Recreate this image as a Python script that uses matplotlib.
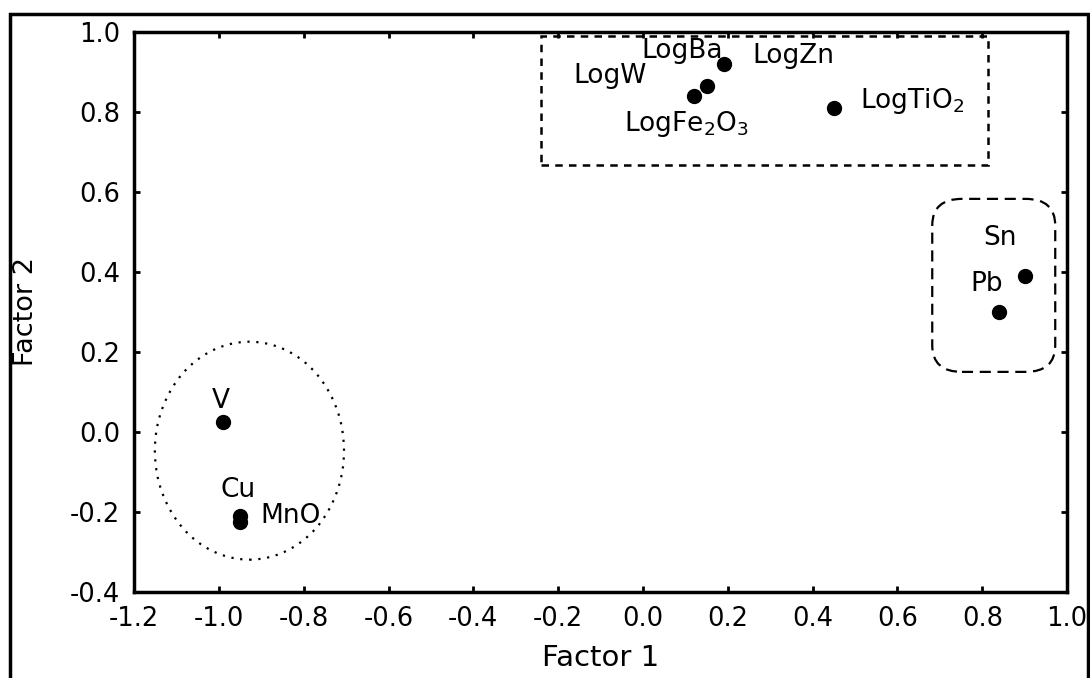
import matplotlib.pyplot as plt
from matplotlib.patches import Rectangle, FancyBboxPatch, Ellipse

plt.rcParams['font.family'] = ['DejaVu Sans']
plt.rcParams['mathtext.fontset'] = 'dejavusans'

## data ##
names = ['LogBa', 'LogW', 'LogFe2O3', 'LogTiO2', 'Sn', 'Pb', 'V', 'Cu', 'MnO']
factor1 = [0.19, 0.15, 0.12, 0.45, 0.90, 0.84, -0.99, -0.95, -0.95]
factor2 = [0.92, 0.865, 0.84, 0.81, 0.39, 0.30, 0.025, -0.21, -0.225]

# label text and where it sits (baseline)
label_text = ['LogBa', 'LogZn', 'LogW', 'LogFe$_2$O$_3$', 'LogTiO$_2$', 'Sn', 'Pb', 'V', 'Cu', 'MnO']
label_x = [-0.005, 0.259, -0.164, -0.044, 0.512, 0.802, 0.771, -0.996, -0.997, -0.903]
label_y = [0.934, 0.923, 0.873, 0.751, 0.809, 0.4675, 0.351, 0.059, -0.162, -0.227]
label_ha = ['left', 'left', 'left', 'left', 'left', 'left', 'left', 'center', 'left', 'left']

xticks = [-1.2, -1.0, -0.8, -0.6, -0.4, -0.2, 0.0, 0.2, 0.4, 0.6, 0.8, 1.0]
yticks = [-0.4, -0.2, 0.0, 0.2, 0.4, 0.6, 0.8, 1.0]

fig = plt.figure(figsize=(10.9, 6.78), dpi=100)
ax = fig.add_axes([0.123, 0.127, 0.856, 0.826])

ax.plot(factor1, factor2, 'o', color='black', ms=10, zorder=3)

for t, x, y, ha in zip(label_text, label_x, label_y, label_ha):
    ax.text(x, y, t, ha=ha, va='baseline', fontsize=19)

# group outlines
ax.add_patch(Rectangle((-0.24, 0.668), 1.054, 0.322, fill=False,
                       ls=(0, (3, 2.5)), lw=1.8, color='black'))
ax.add_patch(FancyBboxPatch((0.682, 0.15), 0.29, 0.4325,
                            boxstyle='round,pad=0,rounding_size=0.07',
                            fill=False, ls=(0, (5, 3)), lw=1.6, color='black',
                            mutation_aspect=0.95))
ax.add_patch(Ellipse((-0.928, -0.047), 0.446, 0.545, fill=False,
                     ls=(0, (1, 3)), lw=1.6, color='black'))

ax.set_xlim(-1.2, 1.0)
ax.set_ylim(-0.4, 1.0)
ax.set_xticks(xticks)
ax.set_yticks(yticks)
ax.set_xticklabels(['%.1f' % v for v in xticks])
ax.set_yticklabels(['%.1f' % v for v in yticks])
ax.tick_params(direction='in', length=4, width=2, labelsize=18.5,
               top=True, right=True, pad=10)
for s in ax.spines.values():
    s.set_linewidth(2.5)

ax.set_xlabel('Factor 1', fontsize=21)
ax.xaxis.set_label_coords(0.5, -0.093)
ax.set_ylabel('Factor 2', fontsize=19.5)
ax.yaxis.set_label_coords(-0.102, 0.5)

# outer frame around the figure
fig.patches.append(Rectangle((10 / 1090, -0.05), 1078 / 1090, 1.05 - 14 / 678,
                             transform=fig.transFigure, fill=False,
                             lw=2.5, color='black'))

fig.savefig('out.png', dpi=100)
